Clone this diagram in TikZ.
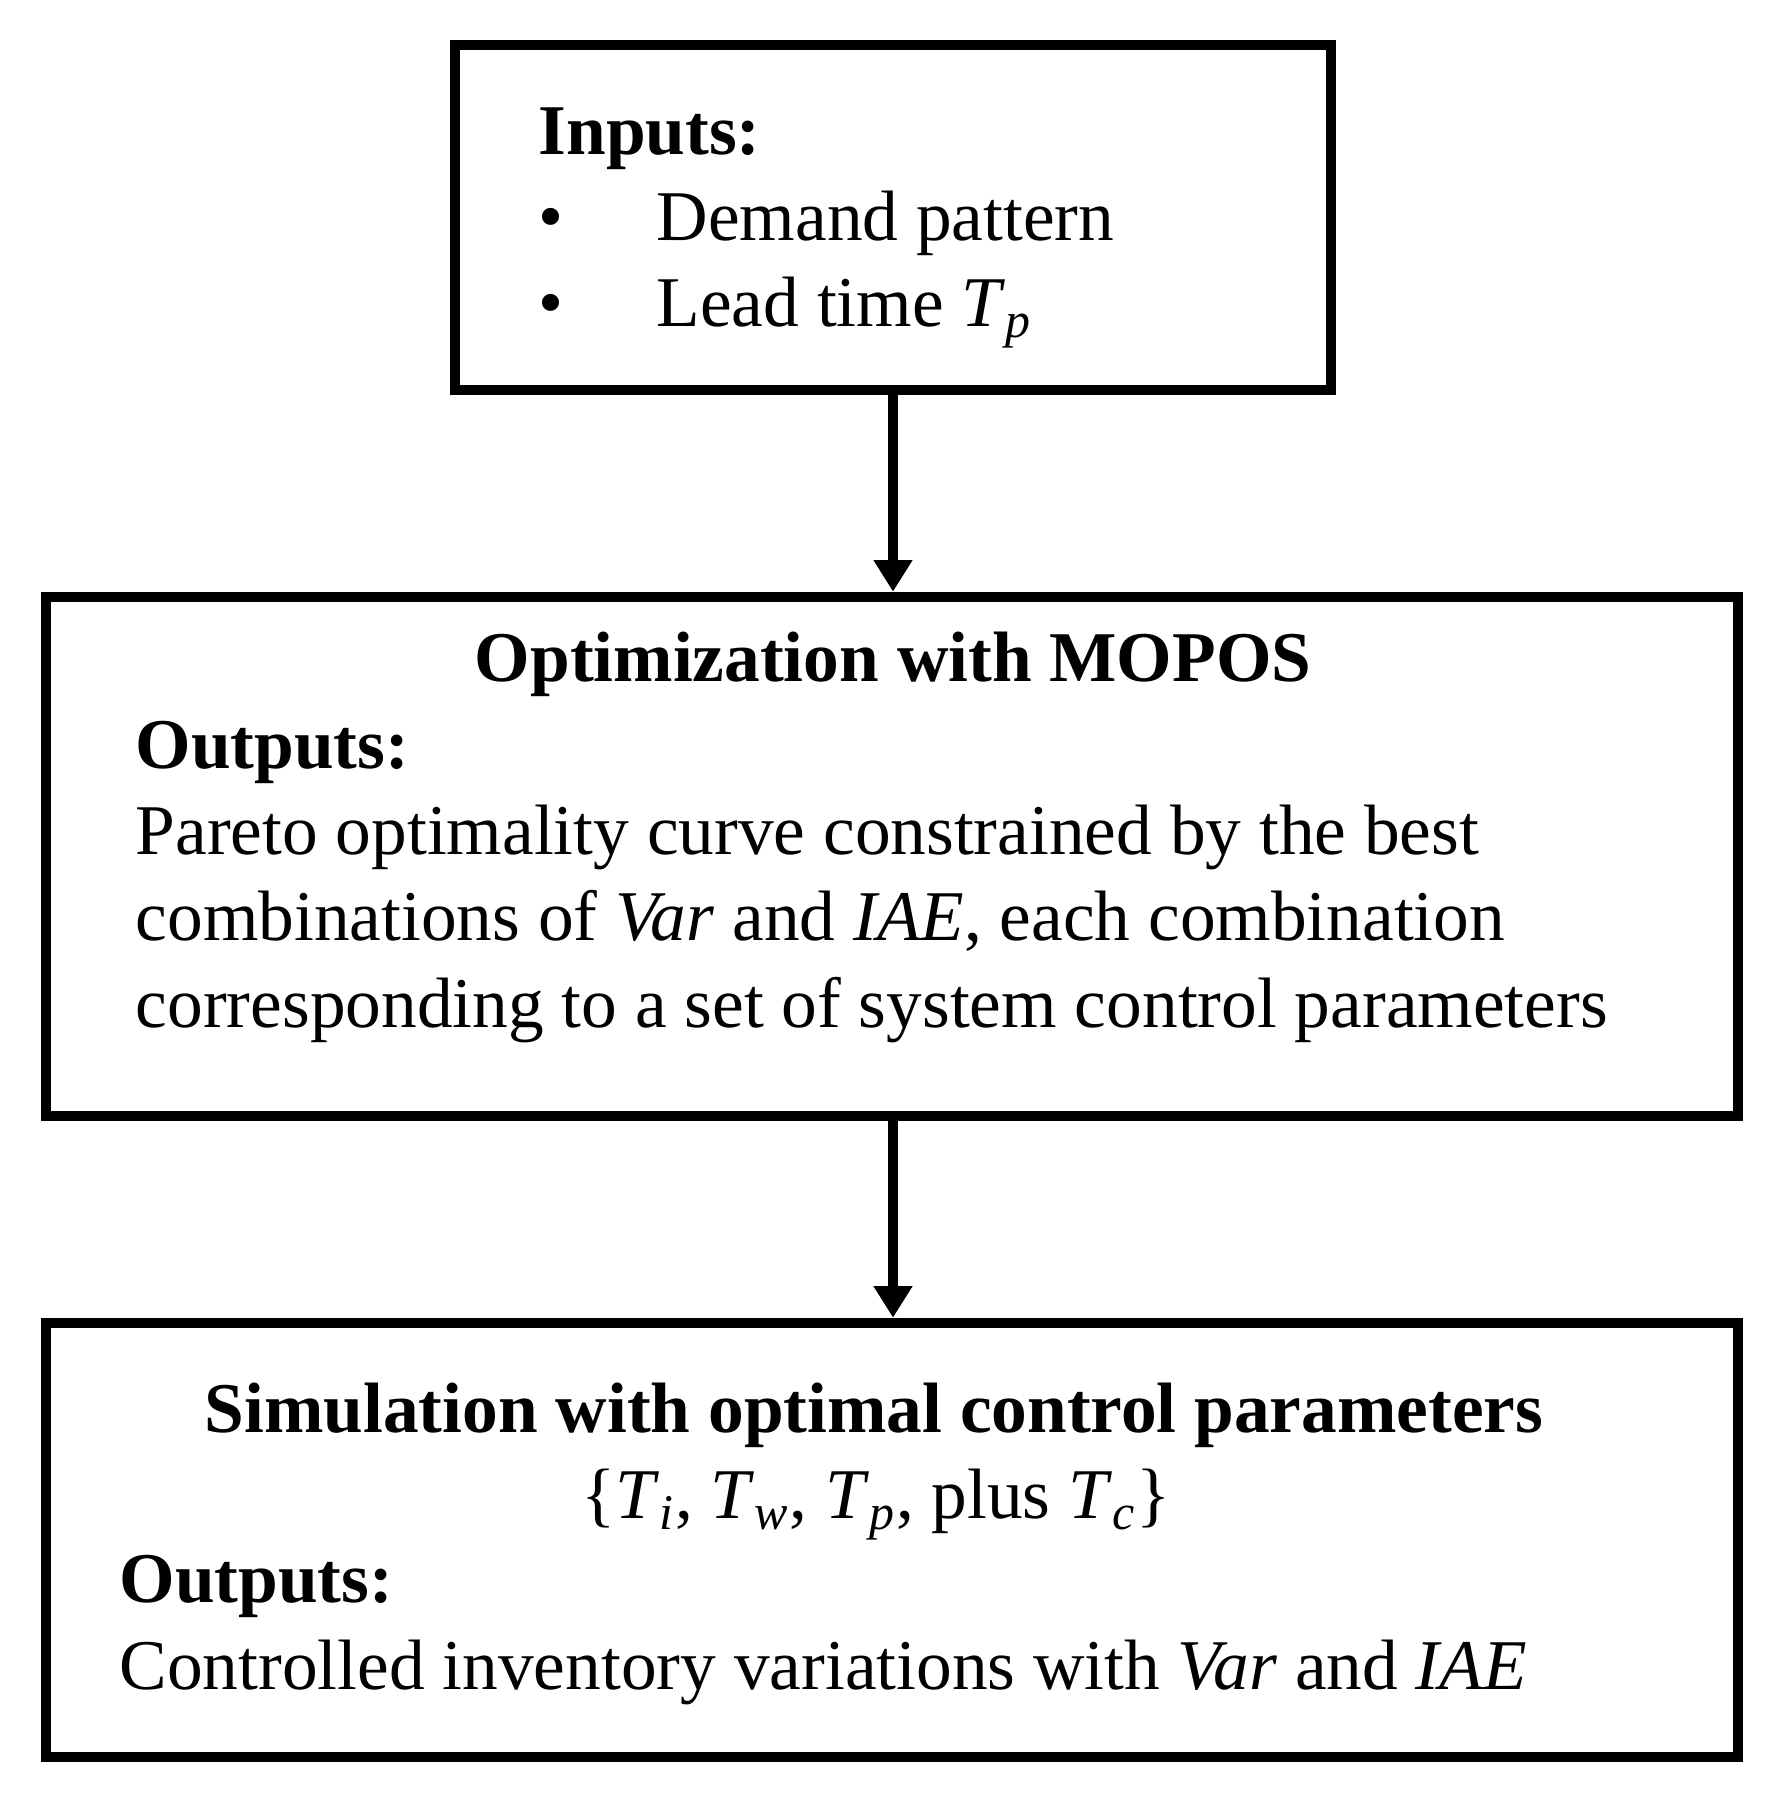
\documentclass[tikz,border=0pt]{standalone}
\usepackage{fontspec}
\setmainfont{Liberation Serif}
\usetikzlibrary{arrows.meta,positioning}

\newcommand{\Tsub}[1]{\textit{T}\textsubscript{\textit{#1}}}

\tikzset{
  stage/.style={draw, line width=3pt, minimum width=16.92cm},
  body/.style={font=\fontsize{20.3pt}{24.55pt}\selectfont, inner sep=0pt, align=left, anchor=base west},
  heading/.style={font=\fontsize{20.3pt}{24.55pt}\selectfont\bfseries, inner sep=0pt, anchor=base},
  flow/.style={line width=3pt, -{Triangle[length=9pt,width=10.5pt]}},
}

\begin{document}
\begin{tikzpicture}
\useasboundingbox (0,0) rectangle (17.68,-17.96);

% ---- boxes ----
\node[stage, minimum width=8.76cm, minimum height=3.45cm] (inbox) at (8.93,-2.175) {};
\node[stage, minimum height=5.19cm] (optbox) at (8.92,-8.565) {};
\node[stage, minimum height=4.34cm] (simbox) at (8.92,-15.40) {};

% ---- inputs (anchored on the last baseline) ----
\node[body] (intxt) at (5.38,-3.27) {\textbf{Inputs:}\\
  \makebox[1.18cm][l]{\textbullet}Demand pattern\\
  \makebox[1.18cm][l]{\textbullet}Lead time \Tsub{p}};

% ---- optimization ----
\node[heading] (opttitle) at (8.93,-6.81) {Optimization with MOPOS};
\node[body] (opttxt) at (1.35,-10.27) {\textbf{Outputs:}\\
  Pareto optimality curve constrained by the best\\
  combinations of \textit{Var} and \textit{IAE}, each combination\\
  corresponding to a set of system control parameters};

% ---- simulation ----
\node[heading] (simtitle) at (8.74,-14.32) {Simulation with optimal control parameters};
\node[body, anchor=base] (simpar) at (8.76,-15.185) {\{\Tsub{i}, \Tsub{w}, \Tsub{p}, plus \Tsub{c}\}};
\node[body] (simtxt) at (1.19,-16.89) {\textbf{Outputs:}\\
  Controlled inventory variations with \textit{Var} and \textit{IAE}};

% ---- connectors ----
\draw[flow] (inbox.south) -- (optbox.north -| inbox.south);
\draw[flow] (optbox.south -| inbox.south) -- (simbox.north -| inbox.south);
\end{tikzpicture}
\end{document}
